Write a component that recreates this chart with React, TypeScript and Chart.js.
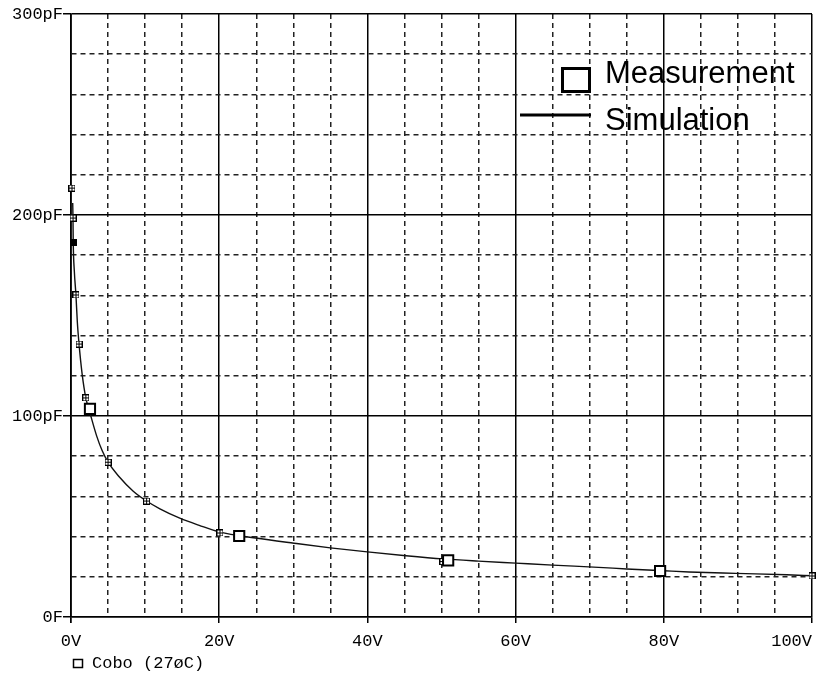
import React, { useEffect, useRef } from 'react';
import { Chart, registerables } from 'chart.js';

Chart.register(...registerables);

// ---- data ----
// Simulation trace: reverse voltage (V) vs capacitance (pF)
const simV = [0.23, 0.27, 0.3, 0.45, 0.67, 0.85, 1.08, 1.5, 2.0, 2.6, 3.47, 4.2, 5.0, 6.5, 8.4, 10.2, 12, 14.6, 17.3, 20.1, 24.9, 30.1, 35, 40, 45.2, 50.2, 55, 60, 65, 71.2, 75, 80, 83.4, 89.7, 96.6, 100];
const simC = [206, 198, 187, 172, 160, 147, 136, 121, 109, 101, 90, 82.8, 77, 69.8, 62.6, 57.7, 53.8, 49.3, 45.6, 42.2, 39.3, 36.7, 34.4, 32.4, 30.5, 28.9, 27.8, 26.8, 25.8, 24.7, 23.9, 23.0, 22.4, 21.7, 21.0, 20.5];

// PSpice trace markers (small crossed squares)
const markV = [0.13, 0.27, 0.27, 0.67, 1.08, 2.0, 5.0, 10.2, 20.1, 50.2, 100];
const markC = [213.4, 198.5, 186.1, 160.2, 135.8, 109, 77, 57.7, 41.8, 27.6, 20.4];
const markFilled = [false, false, true, false, false, false, false, false, false, false, false];

// Measurement points (large open squares)
const measV = [2.56, 22.7, 50.9, 79.5];
const measC = [103.5, 40.3, 28.2, 22.9];

// axes
const xMin = 0;
const xMax = 100;
const xStep = 5;
const xMajorStep = 20;
const yMin = 0;
const yMax = 300;
const yStep = 20;
const yMajorStep = 100;
const xUnit = 'V';
const yUnit = 'pF';
const yZeroLabel = '0F';

const legendLabels = ['Measurement', 'Simulation'];
const traceLabel = 'Cobo (27øC)';

const MONO = '"Liberation Mono", "Courier New", monospace';
const SANS = '"Liberation Sans", Arial, sans-serif';

function makeMarker(filled: boolean): HTMLCanvasElement {
  const c = document.createElement('canvas');
  c.width = 7;
  c.height = 7;
  const g = c.getContext('2d')!;
  g.strokeStyle = '#000';
  g.fillStyle = '#000';
  g.lineWidth = 1;
  if (filled) {
    g.fillRect(0, 0, 7, 7);
  } else {
    g.fillStyle = '#fff';
    g.fillRect(0, 0, 7, 7);
    g.strokeRect(0.5, 0.5, 6, 6);
    g.beginPath();
    g.moveTo(3.5, 0);
    g.lineTo(3.5, 7);
    g.moveTo(0, 3.5);
    g.lineTo(7, 3.5);
    g.stroke();
  }
  return c;
}

const overlayPlugin = {
  id: 'overlayLegend',
  afterDraw(chart: any) {
    const ctx = chart.ctx as CanvasRenderingContext2D;
    ctx.save();
    // in-plot legend
    ctx.strokeStyle = '#000';
    ctx.lineWidth = 3;
    ctx.fillStyle = '#fff';
    ctx.fillRect(562.5, 68.5, 27, 23);
    ctx.strokeRect(562.5, 68.5, 27, 23);
    ctx.beginPath();
    ctx.moveTo(520, 115);
    ctx.lineTo(591, 115);
    ctx.stroke();
    ctx.fillStyle = '#000';
    ctx.font = `31px ${SANS}`;
    ctx.textAlign = 'left';
    ctx.textBaseline = 'alphabetic';
    ctx.fillText(legendLabels[0], 605, 83);
    ctx.fillText(legendLabels[1], 605, 130);

    // trace label under the x axis
    ctx.lineWidth = 1.5;
    ctx.strokeRect(73.5, 659.5, 9, 8);
    ctx.font = `17px ${MONO}`;
    ctx.textBaseline = 'middle';
    ctx.fillText(traceLabel, 92, 663);
    ctx.restore();
  },
};

export default function App() {
  const ref = useRef<HTMLCanvasElement | null>(null);

  useEffect(() => {
    const canvas = ref.current;
    if (!canvas) return;
    const cross = makeMarker(false);
    const filled = makeMarker(true);

    const isMajorX = (v: any) => typeof v === 'number' && Math.abs(v % xMajorStep) < 1e-9;
    const isMajorY = (v: any) => typeof v === 'number' && Math.abs(v % yMajorStep) < 1e-9;

    const chart = new Chart(canvas, {
      type: 'scatter',
      data: {
        datasets: [
          {
            label: legendLabels[0],
            data: measV.map((v, i) => ({ x: v, y: measC[i] })),
            showLine: false,
            pointStyle: 'rect',
            pointRadius: 7.2,
            borderColor: '#000',
            borderWidth: 2,
            backgroundColor: '#fff',
            clip: false as any,
            order: 0,
          },
          {
            label: 'markers',
            data: markV.map((v, i) => ({ x: v, y: markC[i] })),
            showLine: false,
            pointStyle: markFilled.map((f) => (f ? filled : cross)) as any,
            pointRadius: 4,
            borderColor: '#000',
            backgroundColor: '#000',
            clip: false as any,
            order: 1,
          },
          {
            label: legendLabels[1],
            data: simV.map((v, i) => ({ x: v, y: simC[i] })),
            showLine: true,
            pointRadius: 0,
            borderColor: '#111',
            borderWidth: 1.4,
            cubicInterpolationMode: 'monotone',
            order: 2,
          },
        ],
      },
      options: {
        responsive: false,
        animation: false,
        events: [],
        layout: { autoPadding: false, padding: { top: 14, right: 5, bottom: 0, left: 0 } },
        plugins: {
          legend: { display: false },
          tooltip: { enabled: false },
        },
        scales: {
          x: {
            type: 'linear',
            min: xMin,
            max: xMax,
            afterBuildTicks: (s: any) => {
              const t: any[] = [{ value: xMin }];
              for (let v = xMin; v <= xMax + 1e-9; v += xStep) t.push({ value: v });
              s.ticks = t;
            },
            afterFit: (s: any) => {
              s.height = 60;
              s.paddingLeft = 0;
              s.paddingRight = 0;
            },
            ticks: {
              autoSkip: false,
              maxRotation: 0,
              minRotation: 0,
              align: 'inner',
              padding: 8,
              color: '#000',
              font: { family: MONO, size: 17 },
              callback: (v: any, i: number) => (i === 0 ? '' : isMajorX(v) ? `${v}${xUnit}` : ''),
            },
            grid: {
              color: (c: any) => (c.tick && isMajorX(c.tick.value) ? '#000' : '#222'),
              lineWidth: 1.5,
              tickLength: 6,
              tickColor: (c: any) => (c.tick && isMajorX(c.tick.value) ? '#000' : 'rgba(0,0,0,0)'),
              tickWidth: 1.5,
            },
            border: {
              display: true,
              color: '#000',
              width: 1.5,
              dash: (c: any) => (c.tick && !isMajorX(c.tick.value) ? [5, 4] : []),
            },
          },
          y: {
            type: 'linear',
            min: yMin,
            max: yMax,
            afterBuildTicks: (s: any) => {
              const t: any[] = [];
              for (let v = yMin; v <= yMax + 1e-9; v += yStep) t.push({ value: v });
              s.ticks = t;
            },
            afterFit: (s: any) => {
              s.width = 71;
              s.paddingTop = 0;
              s.paddingBottom = 0;
            },
            ticks: {
              autoSkip: false,
              padding: 0,
              color: '#000',
              font: { family: MONO, size: 17 },
              callback: (v: any) => (v === 0 ? yZeroLabel : isMajorY(v) ? `${v}${yUnit}` : ''),
            },
            grid: {
              color: (c: any) => (c.tick && isMajorY(c.tick.value) ? '#000' : '#222'),
              lineWidth: 1.5,
              tickLength: 8,
              tickColor: (c: any) => (c.tick && isMajorY(c.tick.value) ? '#000' : 'rgba(0,0,0,0)'),
              tickWidth: 1.5,
            },
            border: {
              display: true,
              color: '#000',
              width: 1.5,
              dash: (c: any) => (c.tick && !isMajorY(c.tick.value) ? [5, 4] : []),
            },
          },
        },
      } as any,
      plugins: [overlayPlugin],
    });
    return () => chart.destroy();
  }, []);

  return (
    <div style={{ position: 'absolute', left: 0, top: 0, width: 817, height: 677, background: '#fff' }}>
      <canvas ref={ref} width={817} height={677} style={{ display: 'block' }} />
    </div>
  );
}
